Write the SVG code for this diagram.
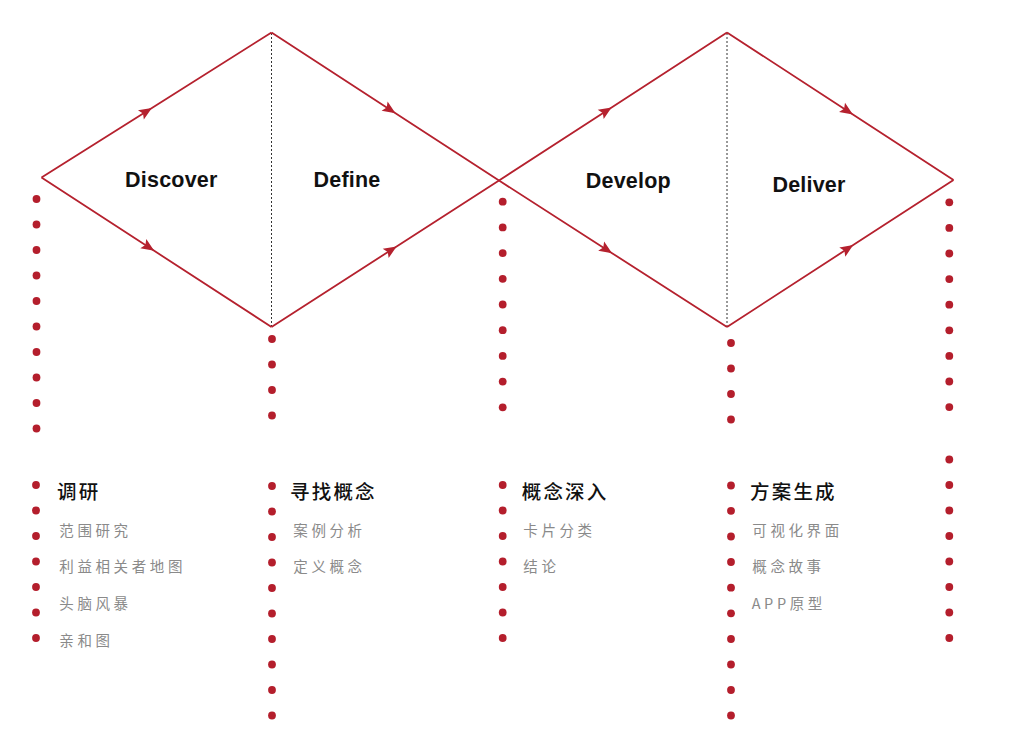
<svg xmlns="http://www.w3.org/2000/svg" width="1016" height="750" viewBox="0 0 1016 750">
  <style>
    .edge { fill: none; stroke: #b5212e; stroke-width: 1.8; stroke-linejoin: miter; marker-mid: url(#arrow); }
    .divider { stroke: #333; stroke-width: 1; stroke-dasharray: 2 2; }
    .dot { fill: #b41e2c; }
    .phase { font-family: "Liberation Sans", Arial, sans-serif; font-weight: bold; font-size: 21.5px; letter-spacing: 0.2px; fill: #111; text-anchor: middle; }
    .head { font-family: "Noto Sans CJK SC", sans-serif; font-weight: 500; font-size: 19.5px; letter-spacing: 2.2px; fill: #111; }
    .item { font-family: "Noto Sans CJK SC", sans-serif; font-size: 14.5px; letter-spacing: 3.6px; fill: #8a8a8a; }
  </style>
  <defs>
    <marker id="arrow" markerUnits="userSpaceOnUse" markerWidth="14" markerHeight="12" refX="13" refY="5.5" orient="auto" overflow="visible">
      <path d="M0,0 L13,5.5 L0,11 L2.5,5.5 Z" fill="#b5212e"/>
    </marker>
    <circle id="d" r="3.9" class="dot"/>
  </defs>
  <rect width="1016" height="750" fill="#fff"/>

  <!-- dotted dividers inside each diamond -->
  <line class="divider" x1="271.5" y1="33" x2="271.5" y2="326"/>
  <line class="divider" x1="727" y1="33" x2="727" y2="326"/>

  <!-- directional edges of the double diamond -->
  <g id="connectors">
    <path class="edge" d="M41.5,177.5 L151.9,107.9 L271.5,32.5"/>
    <path class="edge" d="M41.5,177.5 L154.2,250.8 L271.5,327"/>
    <path class="edge" d="M271.5,32.5 L395.5,113.2 L499,180.5"/>
    <path class="edge" d="M271.5,327 L396.6,246.4 L499,180.5"/>
    <path class="edge" d="M499,180.5 L611.6,107.4 L727,32.5"/>
    <path class="edge" d="M499,180.5 L612.1,253.2 L727,327"/>
    <path class="edge" d="M727,32.5 L852.9,114.5 L953.5,180"/>
    <path class="edge" d="M727,327 L853.2,245.1 L953.5,180"/>
  </g>

  <!-- Discover -->
  <g id="discover">
    <text class="phase" x="171.3" y="187.3">Discover</text>
    <g>
      <use href="#d" x="36.5" y="199"/><use href="#d" x="36.5" y="224.5"/><use href="#d" x="36.5" y="250"/>
      <use href="#d" x="36.5" y="275.5"/><use href="#d" x="36.5" y="301"/><use href="#d" x="36.5" y="326.5"/>
      <use href="#d" x="36.5" y="352"/><use href="#d" x="36.5" y="377.5"/><use href="#d" x="36.5" y="403"/>
      <use href="#d" x="36.5" y="428.5"/>
      <use href="#d" x="36" y="485"/><use href="#d" x="36" y="510.5"/><use href="#d" x="36" y="536"/>
      <use href="#d" x="36" y="561.5"/><use href="#d" x="36" y="587"/><use href="#d" x="36" y="612.5"/>
      <use href="#d" x="36" y="638"/>
    </g>
    <text class="head" x="57" y="499.4">调研</text>
    <text class="item" x="59.3" y="535.5">范围研究</text>
    <text class="item" x="59.3" y="572.2">利益相关者地图</text>
    <text class="item" x="59.3" y="608.9">头脑风暴</text>
    <text class="item" x="59.3" y="645.5">亲和图</text>
  </g>

  <!-- Define -->
  <g id="define">
    <text class="phase" x="347" y="187.3">Define</text>
    <g>
      <use href="#d" x="272" y="339"/><use href="#d" x="272" y="364.5"/><use href="#d" x="272" y="390"/>
      <use href="#d" x="272" y="415.5"/>
      <use href="#d" x="272" y="486"/><use href="#d" x="272" y="511.5"/><use href="#d" x="272" y="537"/>
      <use href="#d" x="272" y="562.5"/><use href="#d" x="272" y="588"/><use href="#d" x="272" y="613.5"/>
      <use href="#d" x="272" y="639"/><use href="#d" x="272" y="664.5"/><use href="#d" x="272" y="690"/>
      <use href="#d" x="272" y="715.5"/>
    </g>
    <text class="head" x="290" y="499.4">寻找概念</text>
    <text class="item" x="293.3" y="536">案例分析</text>
    <text class="item" x="293.3" y="572.2">定义概念</text>
  </g>

  <!-- Develop -->
  <g id="develop">
    <text class="phase" x="628.3" y="187.7">Develop</text>
    <g>
      <use href="#d" x="502.7" y="201.7"/><use href="#d" x="502.7" y="227.4"/><use href="#d" x="502.7" y="253.1"/>
      <use href="#d" x="502.7" y="278.8"/><use href="#d" x="502.7" y="304.5"/><use href="#d" x="502.7" y="330.2"/>
      <use href="#d" x="502.7" y="355.9"/><use href="#d" x="502.7" y="381.6"/><use href="#d" x="502.7" y="407.3"/>
      <use href="#d" x="502.7" y="485"/><use href="#d" x="502.7" y="510.5"/><use href="#d" x="502.7" y="536"/>
      <use href="#d" x="502.7" y="561.5"/><use href="#d" x="502.7" y="587"/><use href="#d" x="502.7" y="612.5"/>
      <use href="#d" x="502.7" y="638"/>
    </g>
    <text class="head" x="521.7" y="499.4">概念深入</text>
    <text class="item" x="523.3" y="535.5">卡片分类</text>
    <text class="item" x="523.3" y="572.2">结论</text>
  </g>

  <!-- Deliver -->
  <g id="deliver">
    <text class="phase" x="809" y="191.7">Deliver</text>
    <g>
      <use href="#d" x="731" y="343"/><use href="#d" x="731" y="368.5"/><use href="#d" x="731" y="394"/>
      <use href="#d" x="731" y="419.5"/>
      <use href="#d" x="731" y="485.5"/><use href="#d" x="731" y="510.8"/><use href="#d" x="731" y="536.5"/>
      <use href="#d" x="731" y="562"/><use href="#d" x="731" y="587.7"/><use href="#d" x="731" y="613.3"/>
      <use href="#d" x="731" y="639"/><use href="#d" x="731" y="664.5"/><use href="#d" x="731" y="690"/>
      <use href="#d" x="731" y="715.5"/>
    </g>
    <g>
      <use href="#d" x="949.3" y="202.3"/><use href="#d" x="949.3" y="227.9"/><use href="#d" x="949.3" y="253.5"/>
      <use href="#d" x="949.3" y="279.1"/><use href="#d" x="949.3" y="304.7"/><use href="#d" x="949.3" y="330.3"/>
      <use href="#d" x="949.3" y="355.9"/><use href="#d" x="949.3" y="381.5"/><use href="#d" x="949.3" y="407.1"/>
      <use href="#d" x="949.3" y="459.5"/><use href="#d" x="949.3" y="485"/><use href="#d" x="949.3" y="510.5"/>
      <use href="#d" x="949.3" y="536"/><use href="#d" x="949.3" y="561.5"/><use href="#d" x="949.3" y="587"/>
      <use href="#d" x="949.3" y="612.5"/><use href="#d" x="949.3" y="638"/>
    </g>
    <text class="head" x="750" y="499.4">方案生成</text>
    <text class="item" x="752.3" y="535.5">可视化界面</text>
    <text class="item" x="752.3" y="572.2">概念故事</text>
    <text class="item" x="751.7" y="608.8">APP原型</text>
  </g>
</svg>
